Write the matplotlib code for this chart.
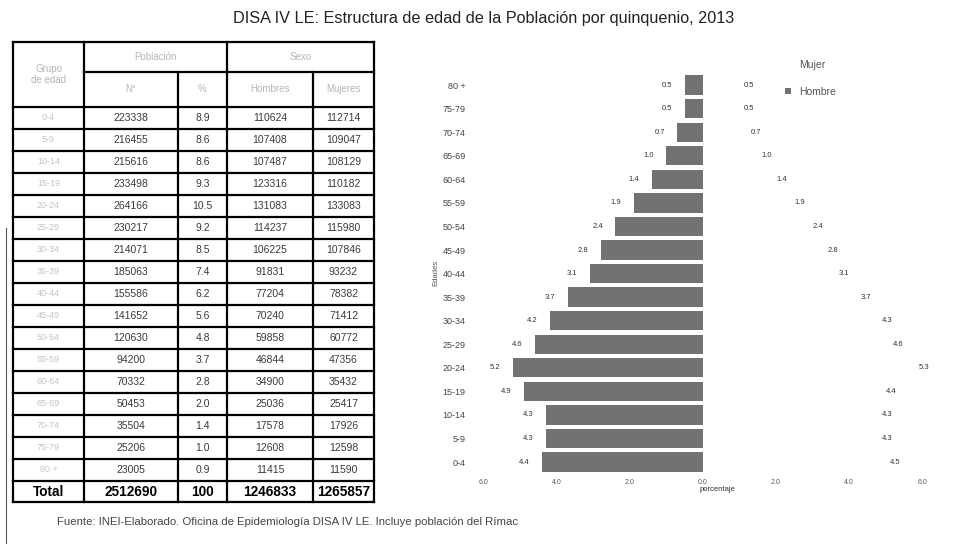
import numpy as np
import matplotlib.pyplot as plt
from matplotlib.patches import Patch

plt.rcParams['font.family'] = ['Liberation Sans', 'DejaVu Sans']

# datos (DISA IV LE, 2013)
grupos = ["0-4", "5-9", "10-14", "15-19", "20-24", "25-29", "30-34", "35-39", "40-44",
          "45-49", "50-54", "55-59", "60-64", "65-69", "70-74", "75-79", "80 +"]
total = [223338, 216455, 215616, 233498, 264166, 230217, 214071, 185063, 155586,
         141652, 120630, 94200, 70332, 50453, 35504, 25206, 23005]
porc = [8.9, 8.6, 8.6, 9.3, 10.5, 9.2, 8.5, 7.4, 6.2, 5.6, 4.8, 3.7, 2.8, 2.0, 1.4, 1.0, 0.9]
hombres = [110624, 107408, 107487, 123316, 131083, 114237, 106225, 91831, 77204,
           70240, 59858, 46844, 34900, 25036, 17578, 12608, 11415]
mujeres = [112714, 109047, 108129, 110182, 133083, 115980, 107846, 93232, 78382,
           71412, 60772, 47356, 35432, 25417, 17926, 12598, 11590]
totales = ["Total", "2512690", "100", "1246833", "1265857"]

hombres_pct = [4.4, 4.3, 4.3, 4.9, 5.2, 4.6, 4.2, 3.7, 3.1, 2.8, 2.4, 1.9, 1.4, 1.0, 0.7, 0.5, 0.5]
mujeres_pct = [4.5, 4.3, 4.3, 4.4, 5.3, 4.6, 4.3, 3.7, 3.1, 2.8, 2.4, 1.9, 1.4, 1.0, 0.7, 0.5, 0.5]

W, H = 967, 544
fig = plt.figure(figsize=(W / 100, H / 100), dpi=100)

def caja(x0, y0, x1, y1):
    # pixeles -> fraccion de figura
    return [x0 / W, 1 - y1 / H, (x1 - x0) / W, (y1 - y0) / H]

fig.text(484 / W, 1 - 18 / H, "DISA IV LE: Estructura de edad de la Población por quinquenio, 2013",
         ha="center", va="center", fontsize=11.7, color="#222222")

# ---------------- tabla ----------------
tx = fig.add_axes(caja(0, 0, W, H))
tx.set_xlim(0, W)
tx.set_ylim(H, 0)
tx.axis("off")

cols = [13, 84, 178, 227, 313, 374]
y_top, y_h1, y_h2 = 42, 72, 107
alto = 22
n = len(grupos)
y_tot = y_h2 + n * alto
y_fin = y_tot + 21
lw = 1.6

# bordes
tx.plot([cols[0], cols[-1]], [y_top, y_top], color="k", lw=lw)
tx.plot([cols[1], cols[-1]], [y_h1, y_h1], color="k", lw=lw)
for i in range(n + 1):
    yy = y_h2 + i * alto
    tx.plot([cols[0], cols[-1]], [yy, yy], color="k", lw=lw)
tx.plot([cols[0], cols[-1]], [y_fin, y_fin], color="k", lw=lw)
for j, xc in enumerate(cols):
    y0 = y_h1 if j in (2, 4) else y_top
    tx.plot([xc, xc], [y0, y_fin], color="k", lw=lw)

# encabezados (tenues en el original escaneado)
gris = "#b5b5b5"
tx.text((cols[0] + cols[1]) / 2, (y_top + y_h2) / 2, "Grupo\nde edad", ha="center", va="center",
        fontsize=7, color=gris)
tx.text((cols[1] + cols[3]) / 2, (y_top + y_h1) / 2, "Población", ha="center", va="center",
        fontsize=7, color=gris)
tx.text((cols[3] + cols[5]) / 2, (y_top + y_h1) / 2, "Sexo", ha="center", va="center",
        fontsize=7, color=gris)
for j, t in enumerate(["N°", "%", "Hombres", "Mujeres"]):
    tx.text((cols[j + 1] + cols[j + 2]) / 2, (y_h1 + y_h2) / 2, t, ha="center", va="center",
            fontsize=7, color=gris)

for i in range(n):
    yc = y_h2 + (i + 0.5) * alto
    fila = [grupos[i], f"{total[i]}", f"{porc[i]:.1f}", f"{hombres[i]}", f"{mujeres[i]}"]
    for j, t in enumerate(fila):
        tx.text((cols[j] + cols[j + 1]) / 2, yc, t, ha="center", va="center",
                fontsize=7.5 if j else 6.5, color="#3a3a3a" if j else "#c4c4c4")

for j, t in enumerate(totales):
    tx.text((cols[j] + cols[j + 1]) / 2, (y_tot + y_fin) / 2 + 1, t, ha="center", va="center",
            fontsize=9.8, fontweight="bold", color="k")

# borde del escaneo
tx.plot([6, 6], [228, H], color="#555555", lw=0.8)

fig.text(57 / W, 1 - 522 / H,
         "Fuente: INEI-Elaborado. Oficina de Epidemiología DISA IV LE. Incluye población del Rímac",
         ha="left", va="center", fontsize=8.2, color="#444444")

# ---------------- piramide ----------------
ax = fig.add_axes(caja(474, 71, 960, 475))
y = np.arange(n)
bh = ax.barh(y, -np.array(hombres_pct), height=0.82, color="#727272", label="Hombre")
bm = ax.barh(y, mujeres_pct, height=0.82, color="white", label="Mujer")
ax.bar_label(bh, labels=[f"{v:.1f}" for v in hombres_pct], padding=9, fontsize=5.5, color="#333333")
ax.bar_label(bm, labels=[f"{v:.1f}" for v in mujeres_pct], padding=16, fontsize=5.5, color="#333333")

ax.set_xlim(-6.27, 7.04)
ax.set_ylim(-0.55, n - 0.4)
ax.set_yticks(y)
ax.set_yticklabels(grupos, fontsize=6.5, color="#444444")
ax.set_xticks([-6, -4, -2, 0, 2, 4, 6])
ax.set_xticklabels(["6.0", "4.0", "2.0", "0.0", "2.0", "4.0", "6.0"], fontsize=5, color="#555555")
ax.tick_params(length=0, pad=6)
ax.tick_params(axis="x", pad=3)
for s in ax.spines.values():
    s.set_visible(False)
ax.set_xlabel("porcentaje", fontsize=5.5, color="#333333", labelpad=0)
ax.set_ylabel("Edades", fontsize=5.5, color="#555555", labelpad=2)

ax.legend(handles=[Patch(facecolor="white", edgecolor="white"), Patch(facecolor="#727272")],
          labels=["Mujer", "Hombre"], loc="upper left", bbox_to_anchor=(0.62, 1.05),
          frameon=False, fontsize=7.5, labelcolor="#555555", handlelength=0.6,
          handleheight=0.6, labelspacing=1.6)

fig.savefig("out.png", dpi=100)
